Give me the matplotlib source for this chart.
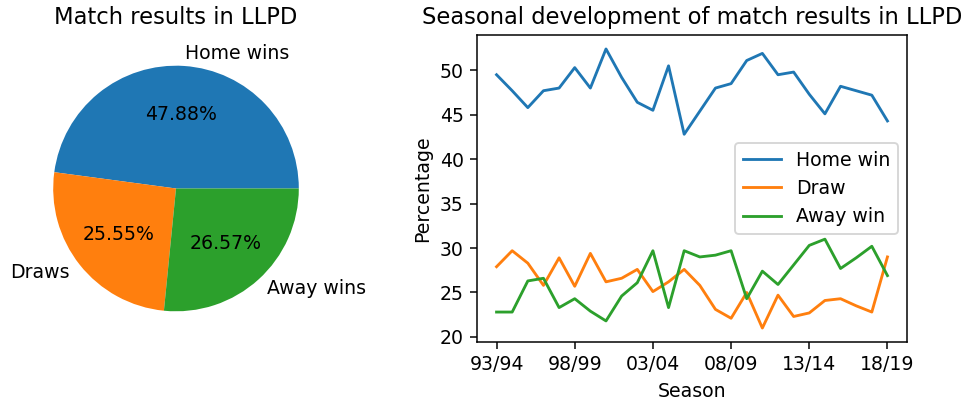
import matplotlib
matplotlib.use('Agg')
import matplotlib.pyplot as plt

# pie data
pie_labels = ['Home wins', 'Draws', 'Away wins']
pie_values = [47.88, 25.55, 26.57]

# seasonal data (percent)
seasons = ['93/94', '94/95', '95/96', '96/97', '97/98', '98/99', '99/00', '00/01',
           '01/02', '02/03', '03/04', '04/05', '05/06', '06/07', '07/08', '08/09',
           '09/10', '10/11', '11/12', '12/13', '13/14', '14/15', '15/16', '16/17',
           '17/18', '18/19']
home_win = [49.5, 47.7, 45.8, 47.7, 48.0, 50.3, 48.0, 52.4, 49.2, 46.4, 45.5, 50.5, 42.8,
            45.4, 48.0, 48.5, 51.1, 51.9, 49.5, 49.8, 47.3, 45.1, 48.2, 47.7, 47.2, 44.3]
draw = [27.9, 29.7, 28.3, 25.8, 28.9, 25.7, 29.4, 26.2, 26.6, 27.6, 25.1, 26.2, 27.6,
        25.8, 23.1, 22.1, 25.0, 21.0, 24.7, 22.3, 22.7, 24.1, 24.3, 23.5, 22.8, 29.0]
away_win = [22.8, 22.8, 26.3, 26.6, 23.3, 24.3, 22.9, 21.8, 24.6, 26.1, 29.7, 23.3, 29.7,
            29.0, 29.2, 29.7, 24.3, 27.4, 25.9, 28.1, 30.3, 31.0, 27.7, 28.9, 30.2, 26.9]

dpi = 136
fig = plt.figure(figsize=(966/dpi, 400/dpi), dpi=dpi)

# pie chart
ax1 = fig.add_axes([22.5/966, 0.145, 307/966, 0.7675])
ax1.pie(pie_values, labels=pie_labels, autopct='%.2f%%')
ax1.set_title('Match results in LLPD')

# line chart
ax2 = fig.add_axes([477/966, 0.145, 430/966, 0.7675])
x = range(len(seasons))
ax2.plot(x, home_win, label='Home win')
ax2.plot(x, draw, label='Draw')
ax2.plot(x, away_win, label='Away win')
ax2.set_xticks(list(x)[::5])
ax2.set_xticklabels(seasons[::5])
ax2.set_xlabel('Season')
ax2.set_ylabel('Percentage')
ax2.set_title('Seasonal development of match results in LLPD')
ax2.legend(loc='center right')

fig.savefig('out.png', dpi=dpi)
